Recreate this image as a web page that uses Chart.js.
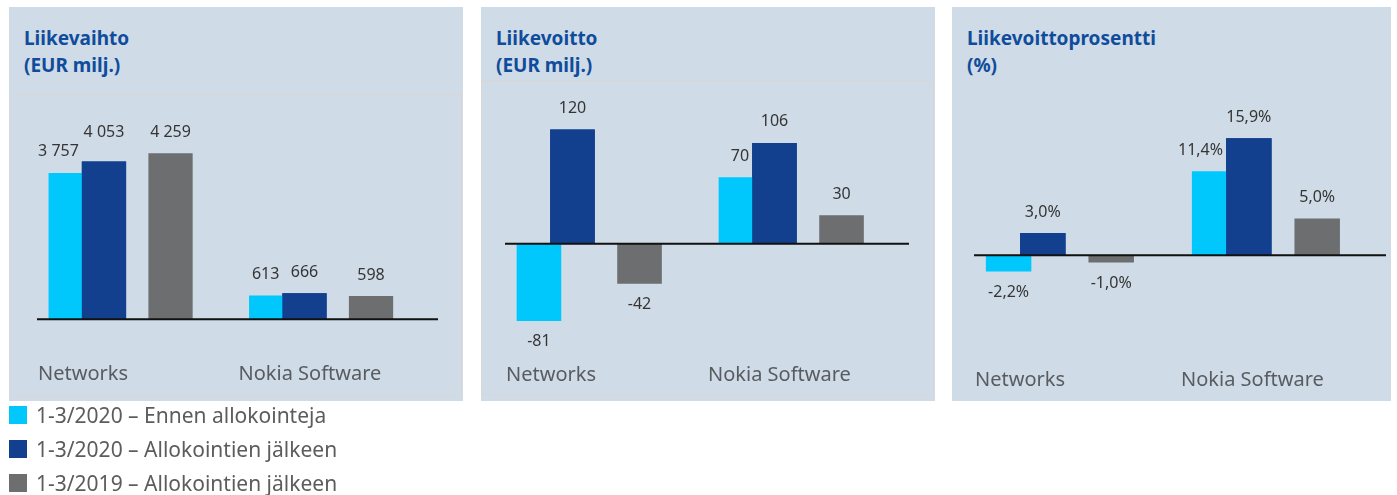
<!DOCTYPE html>
<html>
<head>
<meta charset="utf-8">
<script src="https://cdn.jsdelivr.net/npm/chart.js@4.4.1/dist/chart.umd.min.js"></script>
<style>
  body { margin: 0; width: 1397px; height: 495px; background: #fff; font-family: "Noto Sans", sans-serif; position: relative; overflow: hidden; }
  .panel { position: absolute; top: 7px; height: 394px; background: #cfdbe6; }
  .panel canvas { position: absolute; left: 0; top: 0; }
  .inner { position: absolute; border: 1px solid #dbd6d3; }
  .title { position: absolute; left: 15px; top: 18px; color: #0f4c9c; font-weight: bold; font-size: 19px; line-height: 27px; white-space: nowrap; }
  .legend { position: absolute; left: 9px; top: 398px; }
  .legend div { height: 34px; display: flex; align-items: center; font-size: 21px; color: #5c5c5c; white-space: nowrap; }
  .legend span { display: inline-block; width: 18px; height: 18px; margin-right: 9px; }
</style>
</head>
<body>

<div class="panel" style="left:9px;width:454px">
  <div class="inner" style="left:2px;top:87px;width:449px;height:300px"></div>
  <div class="title">Liikevaihto<br>(EUR milj.)</div>
  <canvas id="salesChart" width="454" height="394"></canvas>
</div>
<div class="panel" style="left:481px;width:454px">
  <div class="inner" style="left:0;top:73px;width:451px;height:313px"></div>
  <div class="title">Liikevoitto<br>(EUR milj.)</div>
  <canvas id="profitChart" width="454" height="394"></canvas>
</div>
<div class="panel" style="left:952px;width:439px">
  <div class="title">Liikevoittoprosentti<br>(%)</div>
  <canvas id="marginChart" width="439" height="394"></canvas>
</div>

<div class="legend" id="legend"></div>

<script>
  //! DATA

  const categories = ["Networks", "Nokia Software"];
  const seriesNames = [
    "1-3/2020 – Ennen allokointeja",
    "1-3/2020 – Allokointien jälkeen",
    "1-3/2019 – Allokointien jälkeen"
  ];
  const seriesColors = ["#00c8fd", "#123f8e", "#6d6e70"];

  // Liikevaihto (EUR milj.)
  const salesBefore2020 = [3757, 613];
  const salesAfter2020 = [4053, 666];
  const sales2019 = [4259, 598];

  // Liikevoitto (EUR milj.)
  const profitBefore2020 = [-81, 70];
  const profitAfter2020 = [120, 106];
  const profit2019 = [-42, 30];

  // Liikevoittoprosentti (%)
  const marginBefore2020 = [-2.2, 11.4];
  const marginAfter2020 = [3.0, 15.9];
  const margin2019 = [-1.0, 5.0];

  //! FUNCTIONS

  // 3757 -> "3 757"
  function fmtEur(v) {
    const s = String(Math.abs(v)).replace(/\B(?=(\d{3})+(?!\d))/g, " ");
    return (v < 0 ? "-" : "") + s;
  }

  // 11.4 -> "11,4%"
  function fmtPct(v) {
    return v.toFixed(1).replace(".", ",") + "%";
  }

  // blue bars on top, zero line, value labels and category names
  const barLabels = {
    id: "barLabels",
    afterDatasetsDraw(chart, args, opts) {
      const ctx = chart.ctx;
      const area = chart.chartArea;
      const x = chart.scales.x;
      const y = chart.scales.y;

      // dark blue overlaps the cyan bar
      chart.getDatasetMeta(1).controller.draw();

      // zero line
      const y0 = y.getPixelForValue(0);
      ctx.save();
      ctx.strokeStyle = "#111";
      ctx.lineWidth = 2;
      ctx.beginPath();
      ctx.moveTo(area.left, y0);
      ctx.lineTo(area.right, y0);
      ctx.stroke();

      // value labels
      const labelY = (bar, v) => (v >= 0 ? bar.y - 21 : bar.y + 21);
      ctx.font = "16px 'Noto Sans'";
      ctx.fillStyle = "#353535";
      ctx.textBaseline = "middle";
      chart.data.datasets.forEach((ds, di) => {
        if (ds.spacer) return;
        chart.getDatasetMeta(di).data.forEach((bar, i) => {
          const v = ds.data[i];
          let ty = labelY(bar, v);
          if (di === 0 && v >= 0) {
            const blue = chart.getDatasetMeta(1).data[i];
            ctx.textAlign = "right";
            ctx.fillText(opts.format(v), blue.x - blue.width / 2 - 3, ty);
            return;
          }
          if (di === 1 && v >= 0 && ds.data[i] >= 0) {
            // keep clear of a cyan label sitting just below
            const cyan = chart.getDatasetMeta(0).data[i];
            const cv = chart.data.datasets[0].data[i];
            const cy = labelY(cyan, cv);
            if (cv >= 0 && cy - ty > 5 && cy - ty < 19) ty = cy - 19;
          }
          ctx.textAlign = "center";
          ctx.fillText(opts.format(v), bar.x, ty);
        });
      });

      // category names, left aligned at category start
      ctx.font = "20px 'Noto Sans'";
      ctx.fillStyle = "#585c61";
      ctx.textAlign = "left";
      const catWidth = x.width / chart.data.labels.length;
      chart.data.labels.forEach((label, i) => {
        ctx.fillText(label, x.getPixelForValue(i) - catWidth / 2 + 1, area.bottom + opts.catOffset);
      });
      ctx.restore();
    }
  };

  function makeChart(id, values, yMin, yMax, padding, catOffset, format) {
    const bar = (data, ci) => ({
      label: seriesNames[ci],
      data: data,
      backgroundColor: seriesColors[ci]
    });
    const spacer = { data: [null, null], spacer: true };

    return new Chart(document.getElementById(id), {
      type: "bar",
      data: {
        labels: categories,
        datasets: [bar(values[0], 0), bar(values[1], 1), spacer, bar(values[2], 2), { ...spacer }]
      },
      options: {
        responsive: false,
        animation: false,
        events: [],
        categoryPercentage: 0.83,
        barPercentage: 1.33,
        layout: { padding: padding },
        scales: {
          x: { display: false },
          y: { display: false, min: yMin, max: yMax }
        },
        plugins: {
          legend: { display: false },
          tooltip: { enabled: false },
          barLabels: { format: format, catOffset: catOffset }
        }
      },
      plugins: [barLabels]
    });
  }

  // html legend under the first panel
  function legend() {
    const box = document.getElementById("legend");
    seriesNames.forEach((name, i) => {
      const row = document.createElement("div");
      const sq = document.createElement("span");
      sq.style.background = seriesColors[i];
      row.appendChild(sq);
      row.appendChild(document.createTextNode(name));
      box.appendChild(row);
    });
  }

  //! CHARTS

  makeChart("salesChart", [salesBefore2020, salesAfter2020, sales2019], -300, 5500,
    { left: 28, right: 25, top: 98, bottom: 70 }, 43, fmtEur);
  makeChart("profitChart", [profitBefore2020, profitAfter2020, profit2019], -100, 150,
    { left: 24, right: 26, top: 94, bottom: 62 }, 36, fmtEur);
  makeChart("marginChart", [marginBefore2020, marginAfter2020, margin2019], -5, 20,
    { left: 22, right: 5, top: 101, bottom: 109 }, 88, fmtPct);
  legend();
</script>
</body>
</html>
